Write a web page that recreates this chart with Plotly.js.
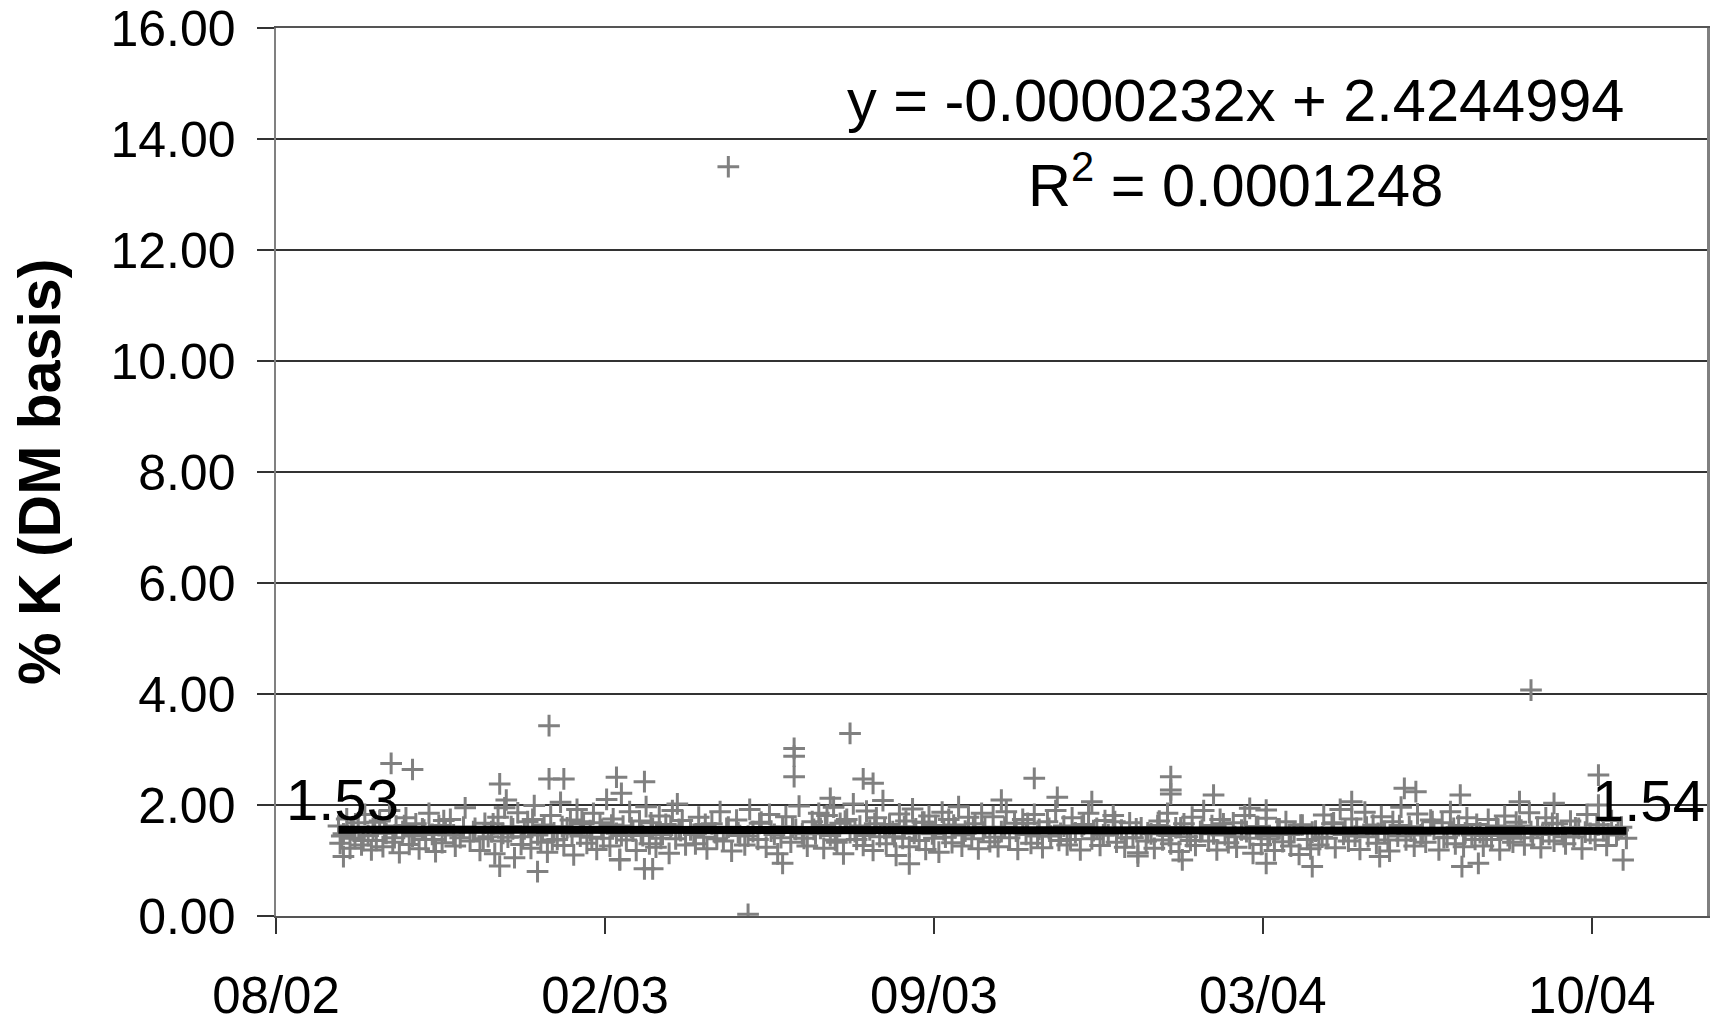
<!DOCTYPE html>
<html>
<head>
<meta charset="utf-8">
<script src="https://cdn.plot.ly/plotly-3.0.1.min.js"></script>
<style>html,body{margin:0;padding:0;background:#fff}#chart{width:1721px;height:1020px}</style>
</head>
<body>
<div id="chart"></div>
<script>
// Sample dates as spreadsheet day serials (1 = 1900-01-01), values are % K on a dry-matter basis
const bulkDays = [
37507,37508,37510,37512,37514,37515,37517,37519,37521,37523,
37525,37527,37528,37530,37532,37534,37536,37538,37540,37542,
37544,37546,37548,37550,37552,37554,37556,37558,37560,37562,
37564,37566,37568,37570,37572,37575,37578,37581,37584,37587,
37590,37593,37596,37598,
37600,37602,37604,37606,37608,37610,37612,37614,37616,37618,
37620,37622,37624,37626,37628,37630,37632,37634,37636,37638,
37640,37642,37644,37646,37648,37650,37652,37654,37656,37658,
37660,37662,37664,37666,37668,37670,37672,37674,37676,37678,
37680,37682,37684,37686,37688,37690,37692,37694,37696,37698,
37700,37702,37704,37706,37708,37710,37712,37714,37716,37718,
37721,37724,37726,37729,37731,37734,37736,37739,37741,37744,
37746,37749,37751,37754,37757,37759,37762,37764,37767,37769,
37772,37774,37777,37779,37782,37785,37787,37790,37792,37795,
37797,37799,
37800,37802,37804,37806,37808,37810,37812,37814,37816,37818,
37820,37822,37824,37826,37828,37830,37832,37834,37836,37838,
37840,37842,37844,37846,37848,37850,37852,37854,37856,37858,
37860,37862,37864,37866,37868,37870,37872,37874,37876,37878,
37880,37882,37884,37886,37888,37890,37892,37894,37896,37898,
37900,37903,37905,37908,37910,37913,37915,37918,37920,37923,
37925,37928,37930,37933,37935,37938,37940,37943,37945,37948,
37950,37953,37955,37958,37960,37963,37965,37968,37970,37973,
37975,37978,37980,37983,37985,37988,37990,37993,37995,37998,
38001,38003,38006,38008,38011,38013,38016,38018,38021,38023,
38026,38028,38031,38033,38036,38038,38041,38043,38046,38048,
38051,38053,38056,38058,38061,38063,38066,38068,38071,38073,
38076,38078,38081,38083,38086,38088,38091,38093,38096,38098,
38101,38103,38106,38108,38111,38113,38116,38118,38121,38123,
38126,38128,38131,38133,38136,38138,38141,38143,38146,38148,
38151,38153,38156,38158,38161,38163,38166,38168,38171,38173,
38176,38178,38181,38183,38186,38188,38191,38193,38196,38198,
38201,38203,38206,38208,38211,38213,38216,38218,38221,38223,
38226,38228,38231,38233,38236,38238,38241,38243,38246,38248,
38251,38253,38256,38258,38261,38263,38266,38268,38271,38273,
38276,38278,38281,38284,38287,38290
];
const bulkK = [
1.62,1.31,1.48,1.75,1.22,1.55,1.40,1.68,1.28,1.83,
1.45,1.19,1.58,1.36,1.71,1.25,1.49,1.90,1.33,1.62,
1.14,1.52,1.77,1.29,1.44,1.66,1.21,1.57,1.38,1.85,
1.47,1.16,1.63,1.32,1.52,1.74,1.26,1.41,1.95,1.35,
1.58,1.18,1.67,1.43,
1.52,1.12,1.78,1.35,1.95,1.42,1.61,1.05,1.86,1.29,
1.57,1.70,1.22,1.99,1.46,1.33,1.64,1.15,1.81,1.50,
1.38,2.05,1.27,1.59,1.73,1.10,1.92,1.44,1.66,1.31,
1.54,1.85,1.20,1.68,1.40,2.10,1.26,1.75,1.49,1.02,
1.62,1.37,1.88,1.53,1.18,1.71,1.45,1.97,1.30,1.58,
1.24,1.80,1.47,1.65,1.13,1.90,1.39,1.56,1.72,1.28,
1.55,1.30,1.78,1.42,1.21,1.66,1.50,1.88,1.35,1.60,
1.17,1.73,1.45,1.28,1.92,1.52,1.38,1.69,1.24,1.83,
1.47,1.12,1.61,1.79,1.33,1.56,1.98,1.40,1.26,1.70,
1.48,1.85,
1.58,1.22,1.81,1.45,1.96,1.33,1.67,1.12,1.74,1.50,
2.02,1.38,1.62,1.27,1.89,1.55,1.18,1.77,1.43,2.08,
1.30,1.65,1.52,1.09,1.84,1.40,1.71,1.25,1.93,1.57,
1.36,1.69,1.20,1.80,1.48,1.63,1.15,1.87,1.42,1.74,
1.32,1.59,1.97,1.26,1.53,1.78,1.39,1.66,1.21,1.85,
1.60,1.34,1.79,1.25,1.52,1.88,1.41,1.67,1.20,1.74,
1.47,1.31,1.83,1.56,1.23,1.70,1.44,1.90,1.36,1.62,
1.28,1.77,1.50,1.19,1.65,1.85,1.39,1.58,1.27,1.72,
1.46,1.81,1.33,1.55,1.24,1.68,1.41,1.14,1.59,1.35,
1.48,1.22,1.71,1.37,1.85,1.30,1.59,1.16,1.66,1.43,
1.78,1.27,1.52,1.90,1.35,1.63,1.19,1.74,1.46,1.32,
1.68,1.24,1.55,1.81,1.40,1.13,1.61,1.29,1.76,1.45,
1.18,1.57,1.34,1.70,1.26,1.50,1.11,1.64,1.38,1.21,
1.53,1.28,1.82,1.40,1.66,1.23,1.92,1.47,1.35,1.75,
1.58,1.20,1.87,1.43,1.64,1.31,1.79,1.52,1.17,1.70,
1.44,1.96,1.37,1.61,1.26,1.84,1.49,1.33,1.73,1.56,
1.19,1.68,1.42,1.88,1.30,1.63,1.25,1.77,1.46,1.38,
1.50,1.26,1.74,1.38,1.62,1.19,1.80,1.45,1.33,1.69,
1.55,1.28,1.86,1.41,1.60,1.23,1.77,1.47,1.35,1.66,
1.52,1.30,1.71,1.43,1.58,1.21,1.83,1.49,1.37,1.64,
1.54,1.27,1.72,1.46,1.60,1.40
];
const coreDays = [
37509,37516,37522,37529,37535,37541,37547,37553,37559,37565,
37571,37577,37583,37589,37595,37601,37607,37613,37619,37625,
37631,37637,37643,37649,37655,37661,37667,37673,37679,37685,
37691,37697,37703,37709,37715,37723,37730,37737,37743,37750,
37756,37763,37770,37776,37783,37789,37796,37803,37809,37815,
37821,37827,37833,37839,37845,37851,37857,37863,37869,37875,
37881,37887,37893,37899,37906,37912,37919,37926,37932,37939,
37946,37952,37959,37966,37972,37979,37986,37992,37999,38005,
38012,38019,38025,38032,38039,38045,38052,38059,38065,38072,
38079,38085,38092,38099,38105,38112,38119,38125,38132,38139,
38145,38152,38159,38165,38172,38179,38185,38192,38199,38205,
38212,38219,38225,38232,38239,38245,38252,38259,38265,38272,
38279,38285
];
const coreK = [
1.44,1.58,1.36,1.69,1.50,1.41,1.63,1.47,1.55,1.38,
1.72,1.46,1.60,1.52,1.39,1.66,1.49,1.57,1.43,1.74,
1.53,1.37,1.61,1.48,1.70,1.42,1.56,1.64,1.45,1.59,
1.51,1.68,1.40,1.62,1.54,1.47,1.65,1.39,1.58,1.50,
1.44,1.67,1.53,1.41,1.60,1.48,1.56,1.63,1.37,1.71,
1.52,1.45,1.66,1.58,1.43,1.61,1.49,1.69,1.40,1.55,
1.64,1.46,1.57,1.51,1.42,1.60,1.53,1.67,1.44,1.58,
1.49,1.38,1.62,1.54,1.46,1.70,1.41,1.57,1.50,1.63,
1.45,1.59,1.36,1.55,1.48,1.66,1.43,1.52,1.61,1.39,
1.57,1.47,1.64,1.51,1.42,1.68,1.55,1.44,1.60,1.49,
1.37,1.63,1.53,1.46,1.70,1.41,1.58,1.50,1.65,1.45,
1.56,1.40,1.62,1.52,1.47,1.67,1.43,1.59,1.51,1.64,
1.48,1.55
];
const outlierDays = [
37539,37552,37605,37609,37635,37635,37644,37676,37693,37679,
37713,37510,37605,37628,37693,37698,37678,37744,37756,37784,
37784,37784,37818,37826,37832,37806,37777,37854,37930,37944,
37910,37965,38013,38013,38013,38039,37993,38020,38061,38071,
38099,38071,38123,38155,38162,38140,38232,38273,38273,38246,
38190,38200,38288,38189,38225
];
const outlierK = [
2.75,2.64,2.38,2.09,3.43,2.47,2.47,2.50,2.42,2.21,
2.02,1.07,0.90,0.80,0.85,0.85,1.01,13.50,0.03,3.02,
2.88,2.51,3.29,2.47,2.39,2.12,0.95,0.94,2.48,2.14,
2.09,2.06,2.51,2.27,2.20,2.18,1.08,1.01,1.94,1.91,
0.89,0.95,2.06,2.30,2.24,1.07,4.07,2.54,2.00,2.03,
0.89,0.95,1.01,2.18,2.06
];
const trendSlope = -0.0000232;
const trendIntercept = 2.4244994;
const equationText = 'y = -0.0000232x + 2.4244994';
const r2Text = 'R<sup>2</sup> = 0.0001248';
const endLabels = ['1.53', '1.54'];
const yTitle = '% K (DM basis)';
const axisStartDay = 37469;   // 08/02
const axisEndDay = 38339;
const tickStepDays = 200;

const toMs = d => (d - 25569) * 86400000;
const allDays = bulkDays.concat(coreDays, outlierDays);
const allK = bulkK.concat(coreK, outlierK);
const firstDay = Math.min(...allDays), lastDay = Math.max(...allDays);
const trendDays = [firstDay, lastDay];
const trendK = trendDays.map(d => trendSlope * d + trendIntercept);

const font = 'Liberation Sans, Arial, sans-serif';

const traces = [
  {
    x: allDays.map(toMs), y: allK, type: 'scatter', mode: 'markers',
    marker: {symbol: 'cross-thin-open', size: 15.5, color: '#808080', line: {color: '#808080', width: 3}},
    hoverinfo: 'skip', showlegend: false
  },
  {
    x: trendDays.map(toMs), y: trendK, type: 'scatter', mode: 'lines',
    line: {color: '#000', width: 8}, hoverinfo: 'skip', showlegend: false
  }
];

const layout = {
  width: 1721, height: 1020,
  margin: {l: 276, r: 14, t: 28, b: 104},
  paper_bgcolor: '#fff', plot_bgcolor: '#fff',
  showlegend: false,
  font: {family: font, color: '#000'},
  xaxis: {
    type: 'date',
    range: [toMs(axisStartDay), toMs(axisEndDay)],
    tick0: toMs(axisStartDay), dtick: tickStepDays * 86400000,
    tickformat: '%m/%y',
    ticks: 'outside', ticklen: 16, tickwidth: 1.5, tickcolor: '#333',
    tickfont: {family: font, size: 51, color: '#000'},
    ticklabelstandoff: 18,
    showgrid: false, zeroline: false,
    showline: true, linecolor: '#555', linewidth: 2,
    mirror: true
  },
  yaxis: {
    range: [0, 16], dtick: 2, tickformat: '.2f',
    ticks: 'outside', ticklen: 17, tickwidth: 1.5, tickcolor: '#333',
    tickfont: {family: font, size: 50, color: '#000'},
    ticklabelstandoff: 11,
    showgrid: true, gridcolor: '#333', gridwidth: 1.5,
    zeroline: false,
    showline: true, linecolor: '#808080', linewidth: 2.5, mirror: true
  },
  annotations: [
    {xref: 'paper', yref: 'paper', x: -0.165, y: 0.5, text: '<b>' + yTitle + '</b>',
     textangle: -90, showarrow: false, font: {family: font, size: 59, color: '#000'},
     xanchor: 'center', yanchor: 'middle'},
    {xref: 'paper', yref: 'paper', x: 0.6705, y: 0.9178, text: equationText, showarrow: false,
     font: {family: font, size: 59.5, color: '#000'}, xanchor: 'center', yanchor: 'middle'},
    {xref: 'paper', yref: 'paper', x: 0.6705, y: 0.8277, text: r2Text, showarrow: false,
     font: {family: font, size: 59.5, color: '#000'}, xanchor: 'center', yanchor: 'middle'},
    {x: toMs(trendDays[0]), y: trendK[0], text: endLabels[0], showarrow: false,
     font: {family: font, size: 58, color: '#000'}, xanchor: 'center', yanchor: 'middle',
     xshift: 4, yshift: 30},
    {x: toMs(trendDays[1]), y: trendK[1], text: endLabels[1], showarrow: false,
     font: {family: font, size: 58, color: '#000'}, xanchor: 'center', yanchor: 'middle',
     xshift: 22, yshift: 30}
  ]
};

Plotly.newPlot('chart', traces, layout, {displayModeBar: false, staticPlot: true});
</script>
</body>
</html>
